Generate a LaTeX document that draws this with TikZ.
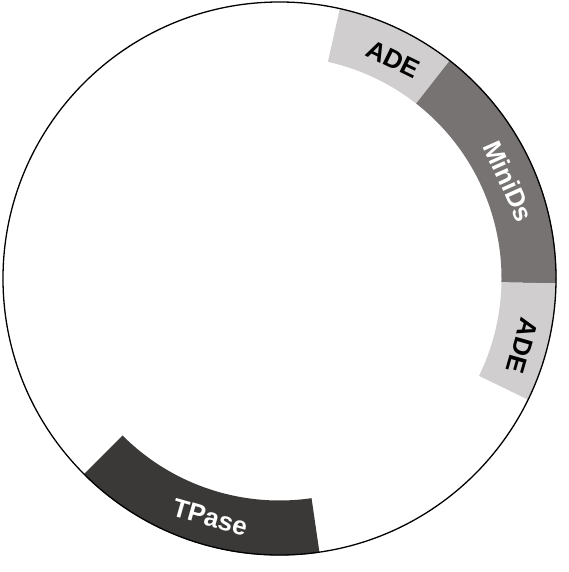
\documentclass[tikz,border=0pt]{standalone}
\usepackage{fontspec}
\setmainfont{Liberation Sans}
\definecolor{adegray}{HTML}{D0CECF}
\definecolor{minigray}{HTML}{767372}
\definecolor{tpasegray}{HTML}{3A3938}
\tikzset{
  lbl/.style={font=\bfseries\fontsize{26}{30}\selectfont, inner sep=0pt},
}
\newcommand{\bandarc}[3]{% start, end, colour
  \fill[#3] (#1:277) arc[start angle=#1, end angle=#2, radius=277]
    -- (#2:222) arc[start angle=#2, end angle=#1, radius=222] -- cycle;}
\begin{document}
\begin{tikzpicture}[x=1pt,y=1pt]
\useasboundingbox (-279.5,-293.5) rectangle (288.5,278.5);
\bandarc{77.4}{52}{adegray}
\bandarc{52}{-1}{minigray}
\bandarc{-1}{-26}{adegray}
\bandarc{225}{278.3}{tpasegray}
\node[lbl, text=black, rotate=-26] (ade1) at (62.5:247) {ADE};
\node[lbl, text=white, rotate=-66] (minids) at (23:249) {MiniDs};
\node[lbl, text=black, rotate=-106] (ade2) at (-15.5:252) {ADE};
\node[lbl, text=white, rotate=-16] (tpase) at (253.8:249) {TPase};
\draw[line width=1.3pt] (0,0) circle[radius=276.5];
\end{tikzpicture}
\end{document}
